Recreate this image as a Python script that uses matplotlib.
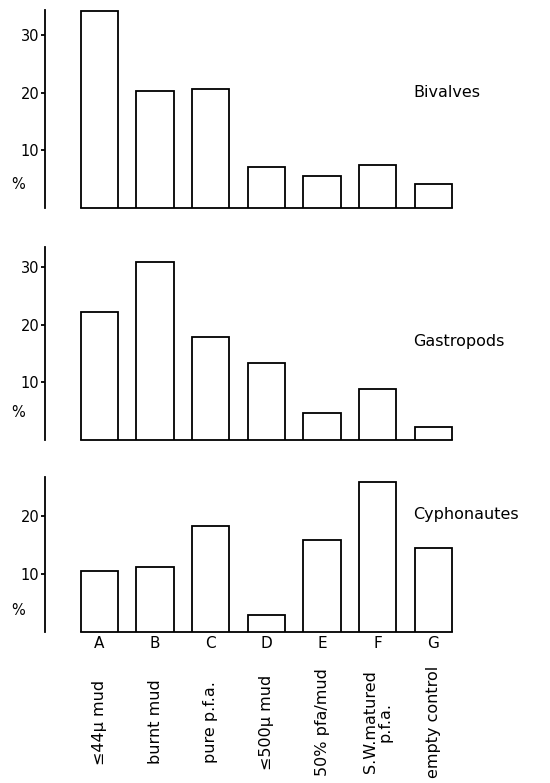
import numpy as np
import matplotlib
matplotlib.use('Agg')
import matplotlib.pyplot as plt
import matplotlib.transforms as mtrans

#-------------------------------------
#-- Data (% settled)
#-------------------------------------
letters = ['A', 'B', 'C', 'D', 'E', 'F', 'G']
treatments = ['≤44µ mud', 'burnt mud', 'pure p.f.a.', '≤500µ mud',
              '50% pfa/mud', 'S.W.matured\np.f.a.', 'empty control']

bivalves = [34.3, 20.4, 20.6, 7.2, 5.6, 7.4, 4.2]
gastropods = [22.2, 30.9, 17.8, 13.3, 4.7, 8.8, 2.3]
cyphonautes = [10.6, 11.3, 18.3, 2.9, 15.8, 25.9, 14.5]

panels = [
    ('Bivalves', bivalves, [10, 20, 30], 34.4, 20.0, 4.0),
    ('Gastropods', gastropods, [10, 20, 30], 33.5, 17.1, 4.7),
    ('Cyphonautes', cyphonautes, [10, 20], 26.8, 20.2, 3.8),
]

# axes boxes in figure fraction [left, bottom, width, height]
boxes = [
    [0.0818, 0.7344, 0.7545, 0.2528],
    [0.0818, 0.4381, 0.7545, 0.2465],
    [0.0818, 0.1928, 0.7545, 0.1984],
]

bar_w = 0.67
lw = 1.3
x = np.arange(len(letters))

fig = plt.figure(figsize=(5.5, 7.83), dpi=100)

for k, (name, vals, yt, ytop, ylab, ypct) in enumerate(panels):
    ax = fig.add_axes(boxes[k])
    ax.bar(x, vals, width=bar_w, facecolor='white', edgecolor='black',
           linewidth=lw, zorder=3)
    ax.set_xlim(-0.98, 6.48)
    ax.set_ylim(0, ytop)

    for s in ['top', 'right']:
        ax.spines[s].set_visible(False)
    ax.spines['left'].set_linewidth(lw)
    ax.spines['bottom'].set_linewidth(lw)
    ax.spines['bottom'].set_bounds(-bar_w / 2, len(letters) - 1 + bar_w / 2)

    ax.set_yticks(yt)
    ax.set_yticklabels([str(t) for t in yt], fontsize=10.5)
    ax.tick_params(axis='y', direction='out', length=3, width=lw, pad=1)

    trans = mtrans.blended_transform_factory(ax.transAxes, ax.transData)
    ax.text(0.887, ylab, name, transform=trans, fontsize=11.5,
            ha='left', va='center')
    ax.text(-0.065, ypct, '%', transform=trans, fontsize=10.5,
            ha='center', va='center')

    if k < 2:
        ax.set_xticks([])
    else:
        ax.set_xticks(x)
        ax.set_xticklabels(letters, fontsize=11)
        ax.tick_params(axis='x', length=0, pad=3)
        for i, lab in enumerate(treatments):
            ax.annotate(lab, xy=(i, 0), xycoords=('data', 'axes fraction'),
                        xytext=(0, -90), textcoords='offset pixels',
                        rotation=90, ha='center', va='center',
                        multialignment='center', fontsize=11.5,
                        linespacing=0.9)

fig.savefig('out.png', dpi=100)
